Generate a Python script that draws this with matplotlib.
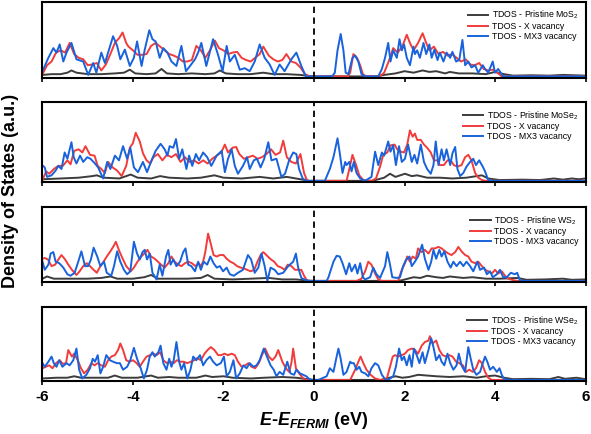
import matplotlib.pyplot as plt

plt.rcParams['font.family'] = ['Liberation Sans', 'DejaVu Sans']
plt.rcParams['mathtext.fontset'] = 'custom'
plt.rcParams['mathtext.it'] = 'Liberation Sans:italic:bold'
plt.rcParams['mathtext.default'] = 'regular'

# Pares (energia em eV, densidade de estados em u.a.)

# ---- MoS2 ----
mos2_pris = [(-6.0, 0.2), (-5.8, 0.3), (-5.6, 0.3), (-5.45, 0.5), (-5.36, 0.8), (-5.25, 0.5), (-5.0, 0.3),
             (-4.7, 0.3), (-4.4, 0.4), (-4.2, 0.5), (-4.07, 0.9), (-3.95, 0.4), (-3.7, 0.3), (-3.5, 0.4),
             (-3.37, 1.0), (-3.25, 0.4), (-3.0, 0.3), (-2.7, 0.4), (-2.4, 0.3), (-2.2, 0.4), (-2.08, 0.8),
             (-1.95, 0.4), (-1.7, 0.3), (-1.4, 0.3), (-1.12, 0.5), (-0.9, 0.3), (-0.6, 0.3), (-0.3, 0.2),
             (-0.1, 0.05), (0.0, 0.0), (1.4, 0.0), (1.55, 0.2), (1.8, 0.4), (2.0, 0.7), (2.2, 0.5), (2.4, 0.8),
             (2.55, 0.6), (2.7, 0.7), (2.9, 0.4), (3.0, 0.6), (3.2, 0.4), (3.5, 0.4), (3.8, 0.3), (4.0, 0.6),
             (4.2, 0.3), (4.4, 0.1), (4.8, 0.15), (5.2, 0.1), (5.5, 0.2), (6.0, 0.1)]
mos2_x = [(-6.0, 0.3), (-5.9, 1.5), (-5.8, 2.0), (-5.7, 3.2), (-5.6, 3.5), (-5.5, 3.2), (-5.4, 4.5), (-5.3, 3.0),
          (-5.2, 2.5), (-5.1, 2.3), (-5.0, 1.5), (-4.9, 1.6), (-4.8, 1.8), (-4.7, 0.8), (-4.6, 1.6), (-4.5, 3.0),
          (-4.4, 4.5), (-4.3, 5.2), (-4.23, 5.9), (-4.15, 4.5), (-4.1, 4.0), (-4.0, 3.5), (-3.9, 2.9),
          (-3.8, 2.9), (-3.7, 3.0), (-3.6, 4.1), (-3.5, 4.5), (-3.4, 4.0), (-3.3, 3.5), (-3.2, 3.0), (-3.1, 2.8),
          (-3.0, 2.5), (-2.9, 2.0), (-2.8, 2.0), (-2.7, 2.2), (-2.6, 4.1), (-2.5, 3.5), (-2.4, 2.5), (-2.3, 3.5),
          (-2.19, 4.8), (-2.1, 3.8), (-2.0, 3.5), (-1.9, 3.0), (-1.8, 3.2), (-1.7, 3.3), (-1.6, 2.5),
          (-1.5, 2.2), (-1.4, 2.0), (-1.3, 2.5), (-1.2, 3.0), (-1.12, 4.0), (-1.0, 2.8), (-0.9, 2.3),
          (-0.8, 2.0), (-0.7, 2.2), (-0.61, 3.0), (-0.5, 2.0), (-0.4, 1.8), (-0.3, 1.2), (-0.2, 0.3),
          (-0.1, 0.0), (0.75, 0.0), (0.80, 0.5), (0.87, 3.0), (0.95, 2.5), (1.02, 1.5), (1.08, 0.3),
          (1.15, 0.0), (1.45, 0.0), (1.55, 0.5), (1.65, 2.0), (1.75, 3.8), (1.85, 3.2), (1.95, 4.0),
          (2.05, 5.6), (2.12, 4.5), (2.20, 3.5), (2.30, 4.5), (2.40, 5.8), (2.48, 4.5), (2.55, 3.5),
          (2.65, 4.0), (2.75, 3.0), (2.85, 3.3), (2.95, 2.8), (3.05, 3.0), (3.15, 2.5), (3.25, 2.0),
          (3.35, 2.3), (3.45, 1.6), (3.55, 1.5), (3.65, 1.8), (3.75, 1.0), (3.85, 0.8), (3.95, 0.9),
          (4.05, 0.5), (4.15, 0.0), (6.0, 0.0)]
mos2_mx3 = [(-6.0, 0.7), (-5.87, 2.5), (-5.76, 3.8), (-5.69, 3.2), (-5.62, 4.3), (-5.54, 2.0), (-5.47, 3.2),
            (-5.36, 4.5), (-5.25, 2.3), (-5.10, 2.0), (-4.99, 0.2), (-4.88, 1.8), (-4.81, 0.5), (-4.70, 3.2),
            (-4.62, 1.8), (-4.53, 3.6), (-4.44, 5.4), (-4.35, 4.1), (-4.28, 2.3), (-4.18, 3.6), (-4.07, 1.4),
            (-3.98, 2.5), (-3.91, 4.7), (-3.81, 1.4), (-3.74, 3.6), (-3.64, 6.2), (-3.57, 5.0), (-3.50, 4.7),
            (-3.41, 2.5), (-3.33, 3.8), (-3.24, 3.2), (-3.15, 2.0), (-3.04, 1.4), (-2.93, 4.1), (-2.83, 0.7),
            (-2.74, 1.4), (-2.63, 2.3), (-2.56, 3.2), (-2.49, 4.5), (-2.38, 1.4), (-2.23, 5.0), (-2.12, 2.9),
            (-2.02, 0.7), (-1.93, 4.1), (-1.86, 2.0), (-1.75, 2.9), (-1.64, 0.9), (-1.53, 1.1), (-1.42, 0.7),
            (-1.31, 2.0), (-1.20, 4.3), (-1.09, 2.5), (-0.98, 1.6), (-0.87, 0.2), (-0.76, 1.6), (-0.65, 0.7),
            (-0.50, 2.3), (-0.39, 3.2), (-0.28, 1.4), (-0.18, 0.0), (0.40, 0.0), (0.46, 0.5), (0.52, 3.5),
            (0.59, 5.7), (0.65, 3.5), (0.70, 0.5), (0.76, 0.3), (0.85, 2.5), (0.91, 2.8), (0.98, 2.0),
            (1.05, 0.3), (1.13, 0.0), (1.42, 0.0), (1.50, 1.0), (1.57, 2.5), (1.64, 4.5), (1.69, 2.0),
            (1.75, 3.5), (1.83, 2.5), (1.89, 5.0), (1.94, 3.5), (1.99, 4.3), (2.05, 2.5), (2.12, 1.5),
            (2.20, 4.0), (2.23, 3.0), (2.28, 3.5), (2.34, 2.5), (2.42, 4.5), (2.48, 3.0), (2.55, 4.3),
            (2.60, 2.5), (2.66, 3.6), (2.73, 2.2), (2.78, 3.2), (2.86, 2.0), (2.93, 3.2), (3.01, 2.5),
            (3.06, 3.3), (3.14, 2.0), (3.21, 2.2), (3.28, 4.9), (3.34, 1.5), (3.41, 2.0), (3.48, 1.2),
            (3.56, 1.5), (3.63, 0.5), (3.73, 1.5), (3.78, 1.0), (3.85, 0.5), (3.95, 2.0), (4.00, 0.5),
            (4.07, 1.0), (4.18, 0.0), (6.0, 0.0)]

# ---- MoSe2 ----
mose2_pris = [(-6.0, 0.2), (-5.6, 0.3), (-5.2, 0.4), (-4.9, 0.6), (-4.8, 0.7), (-4.65, 0.4), (-4.3, 0.3),
              (-4.05, 0.8), (-3.9, 0.4), (-3.6, 0.3), (-3.4, 0.6), (-3.2, 0.4), (-2.8, 0.3), (-2.5, 0.4),
              (-2.2, 0.7), (-2.0, 0.4), (-1.6, 0.3), (-1.2, 0.5), (-0.9, 0.3), (-0.6, 0.5), (-0.3, 0.2),
              (-0.1, 0.0), (1.3, 0.0), (1.42, 0.2), (1.55, 0.4), (1.68, 0.9), (1.8, 0.5), (2.01, 0.9),
              (2.16, 0.6), (2.28, 0.7), (2.5, 0.4), (2.78, 0.4), (3.06, 0.3), (3.37, 0.4), (3.71, 0.7),
              (3.85, 0.3), (4.1, 0.1), (4.6, 0.15), (5.0, 0.1), (5.3, 0.3), (5.5, 0.15), (5.7, 0.3),
              (5.85, 0.2), (6.0, 0.3)]
mose2_x = [(-6.0, 0.1), (-5.92, 1.2), (-5.85, 0.9), (-5.75, 1.5), (-5.65, 1.9), (-5.55, 1.9), (-5.45, 2.6),
           (-5.38, 2.1), (-5.30, 3.8), (-5.20, 4.0), (-5.12, 3.6), (-5.05, 4.4), (-4.95, 3.3), (-4.85, 3.2),
           (-4.78, 1.9), (-4.70, 1.5), (-4.62, 1.0), (-4.55, 2.4), (-4.45, 1.7), (-4.35, 1.3), (-4.25, 0.6),
           (-4.15, 1.9), (-4.07, 4.2), (-4.00, 4.8), (-3.94, 6.1), (-3.85, 5.0), (-3.78, 3.5), (-3.70, 2.6),
           (-3.62, 2.2), (-3.55, 3.0), (-3.45, 3.4), (-3.35, 2.6), (-3.25, 3.3), (-3.15, 3.0), (-3.05, 3.4),
           (-2.95, 2.4), (-2.85, 3.0), (-2.75, 2.4), (-2.65, 2.6), (-2.55, 2.2), (-2.45, 2.6), (-2.35, 2.2),
           (-2.25, 2.8), (-2.15, 3.2), (-2.05, 3.6), (-1.97, 4.6), (-1.90, 3.6), (-1.80, 4.2), (-1.72, 4.3),
           (-1.65, 3.4), (-1.55, 2.8), (-1.45, 3.0), (-1.35, 3.2), (-1.25, 2.8), (-1.15, 3.0), (-1.05, 3.4),
           (-0.95, 4.0), (-0.85, 3.3), (-0.75, 3.6), (-0.68, 5.1), (-0.60, 3.0), (-0.50, 2.4), (-0.40, 2.2),
           (-0.30, 3.4), (-0.22, 1.0), (-0.15, 0.0), (0.72, 0.0), (0.80, 2.0), (0.85, 3.3), (0.93, 2.0),
           (1.00, 0.7), (1.09, 0.1), (1.27, 0.0), (1.37, 0.3), (1.46, 1.8), (1.53, 3.3), (1.62, 3.6),
           (1.69, 4.5), (1.78, 4.6), (1.84, 4.0), (1.92, 3.7), (1.99, 3.6), (2.06, 4.6), (2.12, 6.4),
           (2.18, 5.6), (2.23, 6.0), (2.28, 5.2), (2.36, 5.2), (2.43, 4.6), (2.50, 4.2), (2.58, 3.6),
           (2.65, 2.6), (2.73, 2.6), (2.78, 2.0), (2.87, 2.0), (2.95, 2.6), (3.02, 2.6), (3.09, 2.0),
           (3.17, 1.8), (3.26, 2.0), (3.34, 3.0), (3.41, 3.3), (3.48, 2.6), (3.56, 1.0), (3.63, 0.4),
           (3.71, 0.1), (3.80, 0.0), (6.0, 0.0)]
mose2_mx3 = [(-6.0, 1.95), (-5.95, 1.7), (-5.90, 0.5), (-5.80, 0.7), (-5.71, 1.3), (-5.65, 1.9), (-5.58, 1.5),
             (-5.51, 3.6), (-5.45, 2.8), (-5.36, 4.9), (-5.31, 3.0), (-5.25, 2.2), (-5.17, 3.2), (-5.10, 2.4),
             (-5.01, 3.0), (-4.94, 2.8), (-4.84, 2.2), (-4.77, 1.7), (-4.66, 0.3), (-4.57, 2.4), (-4.50, 1.5),
             (-4.40, 3.2), (-4.31, 2.6), (-4.22, 4.4), (-4.13, 2.8), (-4.06, 4.2), (-3.98, 1.7), (-3.89, 1.1),
             (-3.78, 2.4), (-3.69, 1.1), (-3.59, 2.6), (-3.50, 3.8), (-3.39, 4.7), (-3.30, 4.0), (-3.24, 3.2),
             (-3.19, 4.4), (-3.11, 4.2), (-3.05, 5.3), (-2.98, 2.8), (-2.91, 4.0), (-2.82, 1.5), (-2.76, 3.2),
             (-2.69, 1.9), (-2.61, 3.4), (-2.54, 2.6), (-2.45, 3.6), (-2.36, 3.0), (-2.27, 1.9), (-2.15, 3.2),
             (-2.04, 3.8), (-1.97, 1.1), (-1.90, 2.8), (-1.82, 4.0), (-1.75, 1.9), (-1.68, 0.9), (-1.57, 1.9),
             (-1.48, 3.0), (-1.42, 1.5), (-1.33, 2.6), (-1.26, 2.8), (-1.18, 1.7), (-1.10, 2.8), (-1.01, 4.9),
             (-0.94, 2.6), (-0.83, 2.8), (-0.72, 0.5), (-0.64, 0.9), (-0.55, 2.6), (-0.46, 3.6), (-0.39, 3.4),
             (-0.33, 1.5), (-0.25, 0.3), (-0.17, 0.0), (0.24, 0.0), (0.35, 1.5), (0.43, 3.0), (0.52, 5.4),
             (0.57, 3.5), (0.63, 1.0), (0.69, 2.4), (0.72, 2.0), (0.78, 2.4), (0.83, 1.2), (0.88, 2.4),
             (0.94, 1.0), (1.02, 0.3), (1.13, 0.0), (1.27, 0.5), (1.35, 3.7), (1.42, 2.0), (1.50, 3.6),
             (1.55, 3.2), (1.64, 5.0), (1.69, 3.7), (1.75, 4.5), (1.81, 2.0), (1.88, 4.4), (1.94, 2.4),
             (2.01, 2.8), (2.08, 4.6), (2.16, 2.4), (2.22, 3.3), (2.28, 2.2), (2.36, 4.6), (2.43, 2.4),
             (2.50, 1.5), (2.58, 0.9), (2.64, 2.0), (2.69, 5.0), (2.75, 2.0), (2.82, 4.0), (2.87, 2.6),
             (2.93, 4.0), (3.01, 2.0), (3.06, 3.5), (3.12, 4.3), (3.17, 1.5), (3.23, 0.6), (3.30, 1.0),
             (3.37, 1.8), (3.45, 2.4), (3.52, 2.8), (3.58, 2.0), (3.65, 2.6), (3.73, 1.8), (3.78, 1.2),
             (3.85, 0.1), (3.95, 0.0), (6.0, 0.0)]

# ---- WS2 ----
ws2_pris = [(-6.0, 0.3), (-5.9, 0.6), (-5.75, 0.3), (-5.4, 0.3), (-5.0, 0.3), (-4.7, 0.4), (-4.5, 0.6),
            (-4.35, 0.3), (-4.0, 0.3), (-3.75, 0.5), (-3.6, 0.8), (-3.45, 0.3), (-3.1, 0.3), (-2.8, 0.3),
            (-2.5, 0.4), (-2.35, 0.8), (-2.2, 0.3), (-1.8, 0.2), (-1.4, 0.3), (-1.0, 0.4), (-0.7, 0.2),
            (-0.4, 0.2), (-0.15, 0.05), (0.0, 0.0), (1.85, 0.0), (1.95, 0.1), (2.2, 0.5), (2.35, 0.4),
            (2.5, 0.7), (2.7, 0.5), (2.85, 0.4), (3.0, 0.6), (3.3, 0.4), (3.5, 0.5), (3.8, 0.3), (4.1, 0.3),
            (4.5, 0.4), (4.7, 0.15), (5.1, 0.2), (5.5, 0.3), (5.7, 0.15), (6.0, 0.2)]
ws2_x = [(-6.0, 3.0), (-5.95, 3.1), (-5.88, 2.9), (-5.80, 2.0), (-5.72, 2.2), (-5.65, 2.9), (-5.58, 3.5),
         (-5.50, 2.9), (-5.43, 2.2), (-5.35, 1.5), (-5.25, 0.8), (-5.18, 1.3), (-5.10, 2.0), (-5.02, 2.4),
         (-4.95, 2.0), (-4.87, 1.5), (-4.80, 1.1), (-4.72, 2.0), (-4.65, 2.6), (-4.58, 3.3), (-4.50, 4.0),
         (-4.42, 4.8), (-4.38, 5.3), (-4.30, 4.0), (-4.22, 2.9), (-4.15, 2.0), (-4.05, 1.3), (-3.98, 1.8),
         (-3.90, 2.6), (-3.82, 3.3), (-3.75, 3.7), (-3.68, 4.2), (-3.60, 3.3), (-3.52, 3.0), (-3.45, 2.6),
         (-3.38, 2.2), (-3.30, 1.8), (-3.22, 2.4), (-3.15, 3.3), (-3.08, 2.6), (-3.00, 2.2), (-2.93, 2.0),
         (-2.85, 2.4), (-2.78, 2.6), (-2.70, 2.4), (-2.62, 2.0), (-2.55, 2.4), (-2.50, 2.0), (-2.45, 2.6),
         (-2.40, 4.0), (-2.34, 6.4), (-2.28, 5.0), (-2.22, 3.5), (-2.15, 3.3), (-2.08, 3.5), (-2.00, 3.5),
         (-1.93, 3.0), (-1.85, 2.6), (-1.78, 2.4), (-1.70, 2.0), (-1.62, 1.8), (-1.55, 1.7), (-1.48, 1.5),
         (-1.40, 1.3), (-1.32, 1.5), (-1.25, 2.6), (-1.18, 3.5), (-1.12, 3.9), (-1.02, 3.3), (-0.95, 2.9),
         (-0.88, 2.6), (-0.80, 2.0), (-0.72, 1.8), (-0.65, 1.5), (-0.58, 2.2), (-0.50, 2.0), (-0.42, 1.5),
         (-0.35, 1.5), (-0.28, 1.5), (-0.22, 0.7), (-0.15, 0.0), (0.94, 0.0), (1.05, 0.3), (1.13, 1.3),
         (1.20, 2.6), (1.27, 2.2), (1.35, 1.0), (1.42, 0.2), (1.50, 0.0), (1.86, 0.0), (1.94, 1.5),
         (2.01, 2.4), (2.06, 3.3), (2.12, 2.6), (2.18, 3.3), (2.25, 3.0), (2.30, 4.4), (2.38, 3.9),
         (2.45, 4.2), (2.53, 3.7), (2.60, 4.4), (2.67, 4.4), (2.75, 4.6), (2.82, 4.4), (2.90, 4.0),
         (2.97, 3.7), (3.04, 3.5), (3.12, 3.9), (3.19, 4.6), (3.26, 4.0), (3.34, 3.5), (3.41, 3.3),
         (3.48, 2.6), (3.56, 2.4), (3.63, 2.6), (3.71, 2.0), (3.78, 1.5), (3.85, 1.3), (3.93, 1.0),
         (4.00, 1.5), (4.07, 1.0), (4.15, 1.3), (4.22, 0.7), (4.29, 0.3), (4.40, 0.1), (4.50, 0.0), (6.0, 0.0)]
ws2_mx3 = [(-6.0, 2.6), (-5.95, 1.5), (-5.87, 2.2), (-5.82, 3.7), (-5.76, 3.9), (-5.71, 2.6), (-5.63, 2.4),
           (-5.54, 1.8), (-5.45, 0.9), (-5.38, 0.7), (-5.29, 1.1), (-5.21, 2.6), (-5.14, 4.0), (-5.06, 2.0),
           (-4.99, 2.0), (-4.93, 2.9), (-4.87, 4.5), (-4.79, 3.3), (-4.72, 2.0), (-4.64, 2.6), (-4.58, 1.1),
           (-4.48, 0.7), (-4.42, 2.0), (-4.35, 4.0), (-4.28, 2.6), (-4.20, 1.5), (-4.13, 0.9), (-4.06, 1.3),
           (-3.98, 5.3), (-3.91, 3.7), (-3.85, 2.9), (-3.79, 3.9), (-3.74, 4.2), (-3.69, 2.9), (-3.63, 3.7),
           (-3.57, 1.1), (-3.48, 0.2), (-3.41, 2.2), (-3.35, 0.7), (-3.27, 3.3), (-3.22, 4.2), (-3.17, 2.2),
           (-3.11, 2.9), (-3.04, 2.0), (-2.96, 2.6), (-2.89, 3.9), (-2.84, 4.4), (-2.78, 2.2), (-2.71, 2.0),
           (-2.63, 1.3), (-2.56, 2.6), (-2.50, 1.5), (-2.44, 2.6), (-2.36, 2.2), (-2.29, 3.3), (-2.22, 2.4),
           (-2.15, 1.8), (-2.08, 2.0), (-2.01, 1.3), (-1.93, 1.8), (-1.86, 0.9), (-1.77, 0.7), (-1.68, 1.1),
           (-1.57, 1.5), (-1.46, 3.5), (-1.39, 2.9), (-1.31, 1.1), (-1.23, 1.8), (-1.16, 3.7), (-1.09, 2.0),
           (-1.03, 0.0), (-0.96, 1.8), (-0.87, 1.5), (-0.79, 0.9), (-0.68, 1.1), (-0.57, 2.0), (-0.46, 2.6),
           (-0.40, 3.7), (-0.35, 1.8), (-0.28, 0.4), (-0.18, 0.1), (-0.10, 0.0), (0.28, 0.0), (0.32, 0.5),
           (0.43, 2.6), (0.50, 3.4), (0.57, 3.3), (0.63, 2.4), (0.71, 0.9), (0.78, 2.4), (0.83, 1.3),
           (0.91, 2.2), (0.96, 1.0), (1.02, 2.4), (1.08, 0.5), (1.13, 0.2), (1.24, 0.5), (1.31, 1.8),
           (1.38, 0.9), (1.46, 0.4), (1.57, 2.0), (1.62, 3.9), (1.68, 2.2), (1.73, 0.5), (1.83, 0.4),
           (1.90, 0.5), (1.97, 2.0), (2.03, 2.8), (2.11, 3.3), (2.16, 2.0), (2.23, 2.6), (2.30, 3.3),
           (2.39, 4.9), (2.45, 3.0), (2.53, 1.5), (2.59, 2.6), (2.64, 4.2), (2.70, 3.0), (2.77, 4.2),
           (2.82, 3.3), (2.88, 4.0), (2.95, 2.6), (3.02, 1.8), (3.08, 2.6), (3.15, 2.0), (3.23, 2.6),
           (3.30, 2.0), (3.37, 2.6), (3.45, 2.0), (3.52, 1.3), (3.61, 2.6), (3.67, 1.5), (3.76, 1.8),
           (3.82, 0.9), (3.89, 1.3), (3.95, 0.5), (4.04, 0.9), (4.11, 1.5), (4.18, 0.5), (4.26, 0.5),
           (4.35, 1.1), (4.44, 0.9), (4.49, 1.1), (4.55, 0.1), (4.65, 0.0), (6.0, 0.0)]

# ---- WSe2 ----
wse2_pris = [(-6.0, 0.2), (-5.7, 0.3), (-5.45, 0.3), (-5.3, 0.5), (-5.15, 0.3), (-4.8, 0.3), (-4.55, 0.3),
             (-4.4, 0.6), (-4.25, 0.3), (-3.9, 0.3), (-3.6, 0.6), (-3.45, 0.3), (-3.2, 0.4), (-3.0, 0.3),
             (-2.6, 0.3), (-2.4, 0.6), (-2.25, 0.4), (-2.0, 0.5), (-1.8, 0.3), (-1.4, 0.2), (-1.1, 0.3),
             (-0.7, 0.4), (-0.4, 0.3), (-0.15, 0.1), (0.0, 0.0), (1.5, 0.0), (1.6, 0.2), (1.8, 0.5),
             (1.95, 0.3), (2.1, 0.4), (2.3, 0.7), (2.5, 0.6), (2.7, 0.5), (3.0, 0.4), (3.3, 0.5), (3.6, 0.3),
             (3.8, 0.5), (4.0, 0.6), (4.2, 0.3), (4.4, 0.1), (4.8, 0.15), (5.2, 0.1), (5.4, 0.4), (5.55, 0.15),
             (5.8, 0.3), (6.0, 0.1)]
wse2_x = [(-6.0, 1.6), (-5.93, 1.8), (-5.85, 2.0), (-5.78, 1.6), (-5.70, 2.3), (-5.62, 2.7), (-5.55, 2.2),
          (-5.48, 2.3), (-5.43, 4.1), (-5.35, 3.2), (-5.30, 3.6), (-5.22, 2.7), (-5.15, 1.6), (-5.08, 0.9),
          (-5.00, 1.4), (-4.92, 2.3), (-4.85, 2.0), (-4.78, 2.3), (-4.70, 2.0), (-4.62, 1.8), (-4.55, 2.7),
          (-4.48, 3.2), (-4.40, 3.4), (-4.33, 4.1), (-4.28, 5.0), (-4.22, 4.1), (-4.15, 2.7), (-4.08, 2.5),
          (-4.00, 2.7), (-3.92, 2.3), (-3.85, 1.8), (-3.78, 2.5), (-3.70, 3.2), (-3.62, 3.4), (-3.55, 3.6),
          (-3.48, 3.4), (-3.40, 3.8), (-3.33, 2.7), (-3.25, 2.3), (-3.18, 2.5), (-3.10, 2.3), (-3.03, 2.7),
          (-2.95, 2.5), (-2.88, 2.5), (-2.80, 2.3), (-2.72, 2.5), (-2.65, 2.7), (-2.58, 3.0), (-2.50, 2.7),
          (-2.42, 3.6), (-2.35, 4.1), (-2.28, 4.5), (-2.20, 4.1), (-2.12, 3.4), (-2.05, 3.4), (-1.98, 3.6),
          (-1.90, 3.4), (-1.82, 3.6), (-1.75, 3.4), (-1.68, 2.5), (-1.60, 1.8), (-1.52, 2.0), (-1.45, 2.3),
          (-1.38, 1.8), (-1.30, 1.6), (-1.22, 2.3), (-1.15, 3.4), (-1.08, 4.3), (-1.00, 3.2), (-0.92, 2.7),
          (-0.85, 3.2), (-0.79, 4.1), (-0.70, 2.5), (-0.62, 1.6), (-0.55, 1.1), (-0.50, 2.3), (-0.46, 4.3),
          (-0.40, 1.6), (-0.33, 0.9), (-0.25, 0.3), (-0.18, 0.0), (0.80, 0.0), (0.91, 1.4), (0.98, 2.5),
          (1.03, 3.2), (1.09, 2.3), (1.16, 1.4), (1.25, 0.7), (1.35, 0.2), (1.46, 0.0), (1.61, 0.2),
          (1.68, 1.8), (1.74, 3.2), (1.79, 3.4), (1.86, 3.2), (1.94, 3.4), (2.01, 3.6), (2.08, 4.1),
          (2.16, 4.3), (2.23, 4.1), (2.30, 3.6), (2.38, 4.7), (2.45, 5.2), (2.53, 5.4), (2.56, 6.0),
          (2.62, 5.0), (2.70, 5.4), (2.77, 4.1), (2.84, 3.4), (2.92, 3.2), (2.99, 3.4), (3.06, 3.2),
          (3.14, 2.5), (3.21, 2.3), (3.29, 2.0), (3.36, 1.1), (3.43, 1.4), (3.51, 1.1), (3.58, 1.6),
          (3.65, 2.7), (3.71, 2.3), (3.78, 1.1), (3.85, 0.3), (3.93, 0.0), (6.0, 0.0)]
wse2_mx3 = [(-6.0, 2.3), (-5.95, 1.8), (-5.87, 2.5), (-5.80, 3.2), (-5.75, 2.3), (-5.69, 1.8), (-5.63, 2.7),
            (-5.56, 1.8), (-5.47, 2.3), (-5.40, 2.0), (-5.32, 2.7), (-5.25, 4.3), (-5.19, 1.4), (-5.12, 0.2),
            (-5.03, 0.7), (-4.95, 1.6), (-4.89, 2.9), (-4.84, 2.5), (-4.78, 3.4), (-4.72, 0.9), (-4.66, 1.8),
            (-4.59, 3.4), (-4.51, 2.7), (-4.44, 2.5), (-4.36, 2.3), (-4.29, 2.3), (-4.22, 1.4), (-4.13, 1.8),
            (-4.06, 2.7), (-3.98, 4.4), (-3.91, 2.9), (-3.83, 1.6), (-3.76, 0.2), (-3.69, 1.4), (-3.63, 3.2),
            (-3.57, 3.8), (-3.52, 3.2), (-3.44, 3.8), (-3.39, 4.7), (-3.33, 2.3), (-3.26, 1.4), (-3.20, 2.9),
            (-3.15, 1.8), (-3.10, 2.7), (-3.04, 5.2), (-2.98, 2.5), (-2.93, 1.4), (-2.87, 2.3), (-2.80, 0.2),
            (-2.73, 1.4), (-2.67, 3.2), (-2.60, 2.7), (-2.52, 3.4), (-2.45, 2.0), (-2.38, 2.7), (-2.30, 3.2),
            (-2.23, 2.5), (-2.15, 2.0), (-2.06, 2.3), (-1.99, 3.2), (-1.93, 0.5), (-1.86, 1.1), (-1.78, 2.7),
            (-1.72, 0.2), (-1.64, 0.9), (-1.56, 2.0), (-1.49, 1.6), (-1.42, 2.3), (-1.34, 1.8), (-1.27, 2.0),
            (-1.20, 2.7), (-1.11, 4.3), (-1.04, 3.2), (-0.96, 2.0), (-0.89, 1.4), (-0.83, 0.5), (-0.76, 1.1),
            (-0.68, 0.7), (-0.59, 2.5), (-0.52, 0.9), (-0.44, 0.7), (-0.39, 1.4), (-0.31, 0.9), (-0.24, 0.7),
            (-0.17, 0.5), (-0.10, 0.1), (-0.04, 0.0), (0.10, 0.0), (0.17, 0.2), (0.28, 0.5), (0.35, 1.6),
            (0.43, 1.1), (0.49, 2.9), (0.54, 4.3), (0.59, 2.9), (0.65, 0.7), (0.72, 1.1), (0.80, 2.5),
            (0.83, 2.3), (0.88, 2.3), (0.94, 1.4), (1.00, 1.8), (1.05, 1.1), (1.13, 0.9), (1.20, 0.5),
            (1.27, 1.6), (1.35, 2.3), (1.42, 2.0), (1.50, 0.7), (1.57, 0.1), (1.64, 0.0), (1.75, 0.5),
            (1.81, 1.8), (1.88, 4.3), (1.94, 2.7), (1.99, 3.2), (2.05, 2.0), (2.11, 3.4), (2.16, 1.8),
            (2.21, 4.3), (2.27, 3.4), (2.33, 2.3), (2.40, 3.8), (2.45, 2.3), (2.53, 4.1), (2.59, 5.7),
            (2.64, 4.5), (2.70, 2.7), (2.77, 3.4), (2.82, 2.5), (2.88, 2.0), (2.95, 3.6), (3.01, 2.3),
            (3.08, 1.4), (3.15, 2.0), (3.20, 3.6), (3.26, 2.0), (3.34, 1.1), (3.41, 4.5), (3.46, 3.0),
            (3.52, 1.4), (3.59, 0.7), (3.67, 1.1), (3.73, 2.3), (3.78, 3.2), (3.83, 2.5), (3.89, 1.4),
            (3.96, 1.8), (4.04, 1.1), (4.10, 1.6), (4.15, 0.7), (4.20, 0.1), (4.30, 0.0), (6.0, 0.0)]

materiais = ["MoS$_2$", "MoSe$_2$", "WS$_2$", "WSe$_2$"]
series_pristine = [mos2_pris, mose2_pris, ws2_pris, wse2_pris]
series_x = [mos2_x, mose2_x, ws2_x, wse2_x]
series_mx3 = [mos2_mx3, mose2_mx3, ws2_mx3, wse2_mx3]

cores = ["#3c3c3c", "#f23b3b", "#1862dc"]

# Posição de cada painel (base, altura) em coordenadas da figura
posicoes = [(0.8214, 0.1740), (0.5806, 0.1843), (0.3502, 0.1728), (0.1221, 0.1705)]

fig = plt.figure(figsize=(5.91, 4.34), dpi=100)

for i in range(4):
    ax = fig.add_axes([0.0719, posicoes[i][0], 0.9188, posicoes[i][1]])
    rotulos = ["TDOS - Pristine " + materiais[i], "TDOS - X vacancy", "TDOS - MX3 vacancy"]
    for serie, cor, rotulo in zip([series_pristine[i], series_x[i], series_mx3[i]], cores, rotulos):
        energia = [p[0] for p in serie]
        dos = [p[1] for p in serie]
        ax.plot(energia, dos, color=cor, lw=1.4, label=rotulo)
    ax.axvline(0, color="black", ls=(0, (3.5, 2.5)), lw=1.3)
    ax.set_xlim(-6, 6)
    ax.set_ylim(-0.15, 10)
    ax.set_yticks([])
    ax.set_xticks(range(-6, 7, 2))
    ax.tick_params(axis="x", direction="out", length=3, width=1.2)
    if i < 3:
        ax.set_xticklabels([])
    else:
        ax.set_xticklabels([str(v) for v in range(-6, 7, 2)], fontsize=11, fontweight="bold")
    for s in ax.spines.values():
        s.set_linewidth(1.5)
    ax.legend(loc="upper right", frameon=False, fontsize=6.3, handlelength=2.3,
              labelspacing=0.1, handletextpad=0.4, borderaxespad=0.4)

fig.text(0.017, 0.559, "Density of States (a.u.)", rotation=90, fontsize=13,
         fontweight="bold", ha="center", va="center")
fig.text(0.531, 0.032, r"$\mathit{E}$-$\mathit{E}_{\mathit{FERMI}}$ (eV)", fontsize=13,
         fontweight="bold", ha="center", va="center")

fig.savefig("out.png", dpi=100)
